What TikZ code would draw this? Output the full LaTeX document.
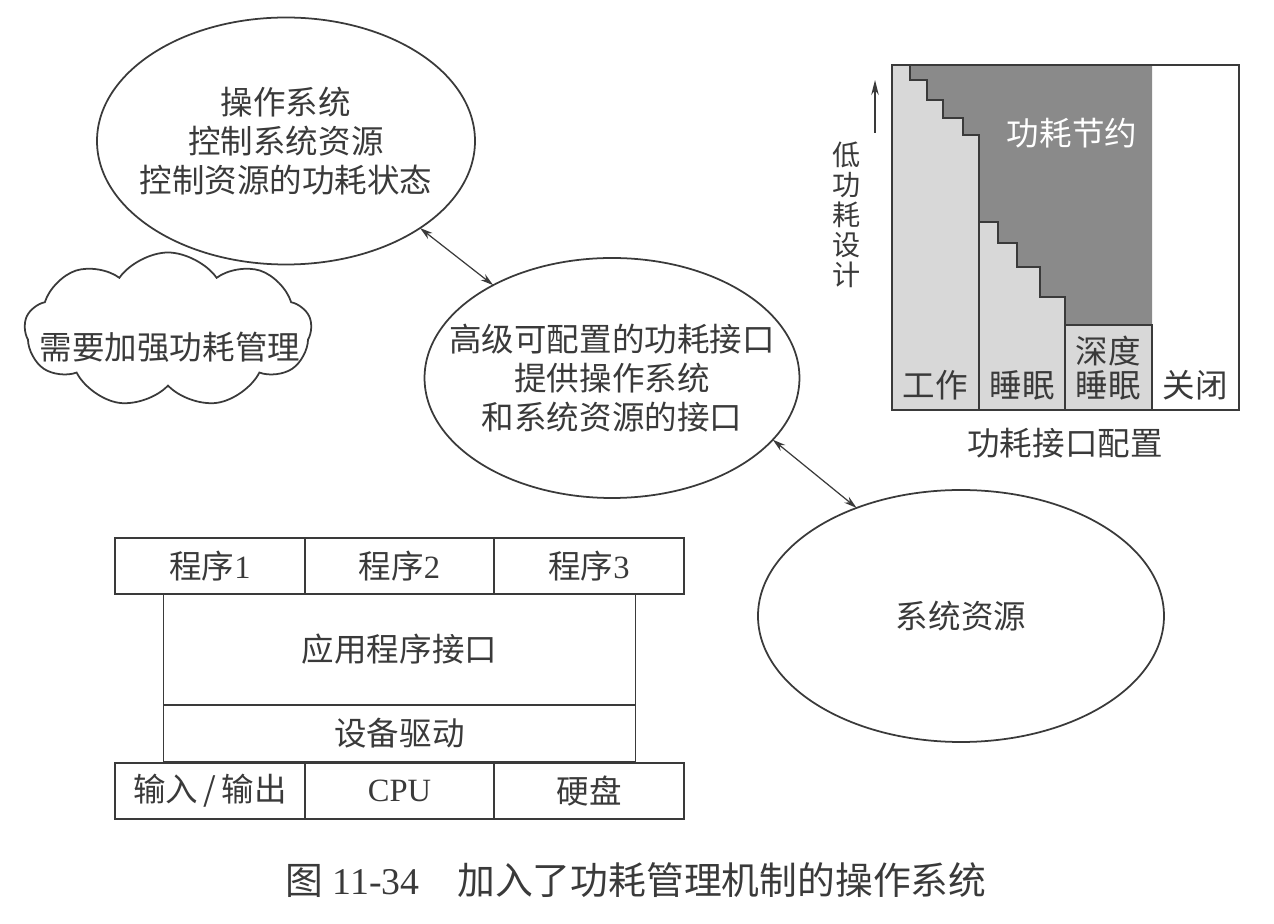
\documentclass[tikz,border=0pt]{standalone}
\usepackage{fontspec}
\setmainfont{Liberation Serif}
\newfontfamily\cjk{Noto Sans CJK SC}
\usetikzlibrary{arrows.meta,positioning,shapes.geometric,shapes.symbols}
\definecolor{ink}{HTML}{3A3A3A}
\definecolor{savegray}{HTML}{8A8A8A}
\definecolor{usegray}{HTML}{D8D8D8}
\newcommand{\lat}[1]{{\rmfamily #1}}

\begin{document}
\begin{tikzpicture}[
  x=0.2mm, y=-0.2mm,
  every node/.style={font=\cjk\fontsize{18.5}{22}\selectfont, text=ink},
  oval/.style={draw=ink, line width=1pt, ellipse, align=center, inner xsep=-6mm,
               inner ysep=-1mm, outer sep=0pt},
  puff/.style={draw=ink, line width=1pt, cloud, cloud puffs=9, cloud puff arc=110,
               aspect=1.8, inner sep=0pt, outer sep=0pt},
  cellbox/.style={draw=ink, line width=1pt, minimum width=37.9mm, minimum height=11.2mm,
                  inner sep=0pt, outer sep=0pt},
  layerbox/.style={draw=ink, line width=1pt, minimum width=94.4mm, inner sep=0pt, outer sep=0pt},
  twoway/.style={{Stealth[length=2.6mm,width=1.5mm]}-{Stealth[length=2.6mm,width=1.5mm]},
                 draw=ink, line width=0.7pt},
  uparrow/.style={-{Stealth[length=3mm,width=1.5mm]}, draw=ink, line width=0.8pt},
  stair/.style={draw=ink, line width=1pt}
]
  \useasboundingbox (0,0) rectangle (1274,924);

  % ovals and cloud
  \node[oval, minimum width=75.6mm, minimum height=49.4mm] (os) at (286,141)
    {操作系统\\控制系统资源\\控制资源的功耗状态};
  \node[oval, minimum width=74.2mm, minimum height=48mm] (api) at (612,378)
    {高级可配置的功耗接口\\提供操作系统\\和系统资源的接口};
  \node[oval, minimum width=81.2mm, minimum height=50.4mm] (sysres) at (961,616) {系统资源};
  \node[puff, minimum width=57.4mm, minimum height=31mm] (bubble) at (168,330) {};
  \node (needtxt) at (170,347) {需要加强功耗管理};

  \draw[twoway] (os.-33) -- (api.142);
  \draw[twoway] (api.-21) -- (sysres.134);

  % power chart
  \fill[usegray] (892,65) rectangle (1152,410);
  \fill[savegray] (910,65) -- (1152,65) -- (1152,325) -- (1065,325) -- (1065,297)
    -- (1040,297) -- (1040,267) -- (1017,267) -- (1017,243) -- (998,243) -- (998,222)
    -- (979,222) -- (979,135) -- (963,135) -- (963,118) -- (943,118) -- (943,100)
    -- (927,100) -- (927,80) -- (910,80) -- cycle;
  \draw[stair] (910,65) -- (910,80) -- (927,80) -- (927,100) -- (943,100) -- (943,118)
    -- (963,118) -- (963,135) -- (979,135) -- (979,410);
  \draw[stair] (979,222) -- (998,222) -- (998,243) -- (1017,243) -- (1017,267)
    -- (1040,267) -- (1040,297) -- (1065,297) -- (1065,410);
  \draw[stair] (1065,325) -- (1152,325) -- (1152,410);
  \draw[stair] (892,65) rectangle (1239,410);

  \node (work) at (935,385) {工作};
  \node (sleep) at (1022,385) {睡眠};
  \node[align=center, font=\cjk\fontsize{18.5}{19}\selectfont] (deep) at (1108,368) {深度\\睡眠};
  \node (off) at (1195,385) {关闭};
  \node[text=white] (saving) at (1072,133) {功耗节约};
  \node (config) at (1065,443) {功耗接口配置};

  \coordinate (axisfoot) at (875,133);
  \coordinate (axistip) at (875,80);
  \draw[uparrow] (axisfoot) -- (axistip);
  \node[align=center, font=\cjk\fontsize{16}{17}\selectfont] (lowpower) at (847,215)
    {低\\功\\耗\\设\\计};

  % software stack
  \node[cellbox] (prog1) at (210,566) {程序\lat{1}};
  \node[cellbox, right=0pt of prog1] (prog2) {程序\lat{2}};
  \node[cellbox, right=0pt of prog2] (prog3) {程序\lat{3}};
  \node[layerbox, minimum height=22.2mm, below=0pt of prog2] (apilayer) {应用程序接口};
  \node[layerbox, minimum height=11.4mm, below=0pt of apilayer] (driver) {设备驱动};
  \node[cellbox] (io) at (210,791) {输入\,/\,输出};
  \node[cellbox, right=0pt of io] (cpu) {\lat{CPU}};
  \node[cellbox, right=0pt of cpu] (disk) {硬盘};

  \node[font=\cjk\fontsize{21.5}{25}\selectfont] (caption) at (636,880)
    {图\lat{ 11-34}\quad 加入了功耗管理机制的操作系统};
\end{tikzpicture}
\end{document}
